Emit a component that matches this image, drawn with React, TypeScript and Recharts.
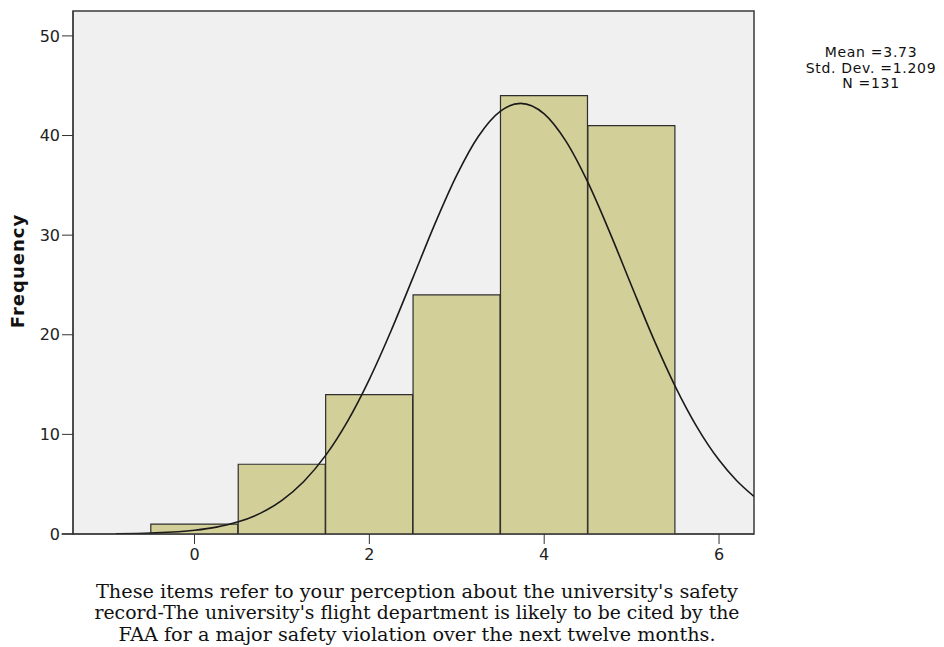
import {
  ComposedChart,
  Bar,
  Line,
  XAxis,
  YAxis,
  CartesianGrid,
  ReferenceArea,
  ReferenceLine,
} from 'recharts'

// histogram bins (bin centres) and their frequencies
const bins = [0, 1, 2, 3, 4, 5]
const counts = [1, 7, 14, 24, 44, 41]

// fitted normal curve
const curveX = [-0.9, -0.5, 0, 0.25, 0.5, 0.75, 1, 1.25, 1.5, 1.75, 2, 2.25, 2.5, 2.75, 3, 3.25, 3.5, 3.73, 4, 4.25, 4.5, 4.75, 5, 5.25, 5.5, 5.75, 6, 6.2, 6.4]
const curveY = [0.03, 0.1, 0.37, 0.69, 1.22, 2.07, 3.38, 5.27, 7.89, 11.31, 15.53, 20.43, 25.76, 31.13, 36.02, 39.95, 42.45, 43.23, 42.17, 39.41, 35.29, 30.28, 24.9, 19.61, 14.8, 10.71, 7.42, 5.37, 3.77]

const xTicks = [0, 2, 4, 6]
const yTicks = [0, 10, 20, 30, 40, 50]

const stats = ['Mean =3.73', 'Std. Dev. =1.209', 'N =131']
const titleLines = [
  "These items refer to your perception about the university's safety",
  "record-The university's flight department is likely to be cited by the",
  'FAA for a major safety violation over the next twelve months.',
]

const X_DOMAIN: [number, number] = [-1.39, 6.4]
const Y_DOMAIN: [number, number] = [0, 52.5]

const histRows = bins.map((bin, i) => ({ bin, count: counts[i] }))
const curveRows = curveX.map((x, i) => ({ x, y: curveY[i] }))

const tickStyle = { fill: '#222', fontSize: 16, fontFamily: 'DejaVu Sans' }

export default function App() {
  return (
    <div style={{ position: 'absolute', left: 0, top: 0, width: 944, height: 647, background: '#fff' }}>
      <ComposedChart
        width={944}
        height={647}
        data={histRows}
        margin={{ top: 11, right: 190, bottom: 83, left: 0 }}
        barCategoryGap={0}
        barGap={0}
      >
        <CartesianGrid xAxisId="bin" fill="#f0f0f0" horizontal={false} vertical={false} />
        <XAxis
          xAxisId="bin"
          dataKey="bin"
          type="number"
          domain={X_DOMAIN}
          ticks={xTicks}
          allowDataOverflow
          height={30}
          tickSize={10}
          tickMargin={5}
          tick={tickStyle}
          stroke="#333"
        />
        <XAxis xAxisId="curve" dataKey="x" type="number" domain={X_DOMAIN} allowDataOverflow hide />
        <YAxis
          type="number"
          domain={Y_DOMAIN}
          ticks={yTicks}
          allowDataOverflow
          width={73}
          tickSize={11}
          tickMargin={2}
          tick={tickStyle}
          stroke="#333"
        />
        <Bar
          xAxisId="bin"
          dataKey="count"
          fill="#d3cf98"
          stroke="#2e2e2e"
          strokeWidth={1.2}
          isAnimationActive={false}
        />
        <Line
          xAxisId="curve"
          data={curveRows}
          dataKey="y"
          type="monotone"
          stroke="#1a1a1a"
          strokeWidth={1.6}
          dot={false}
          isAnimationActive={false}
        />
        <ReferenceArea
          xAxisId="curve"
          x1={X_DOMAIN[0]}
          x2={X_DOMAIN[1]}
          y1={Y_DOMAIN[0]}
          y2={Y_DOMAIN[1]}
          fill="none"
          fillOpacity={0}
          stroke="#3a3a3a"
          strokeWidth={1.5}
          ifOverflow="visible"
        />
        <ReferenceLine
          xAxisId="curve"
          segment={[{ x: -1.52, y: 0 }, { x: X_DOMAIN[0], y: 0 }]}
          stroke="#333"
          strokeWidth={1.5}
          ifOverflow="visible"
        />
      </ComposedChart>

      <svg width={944} height={647} style={{ position: 'absolute', left: 0, top: 0, pointerEvents: 'none' }}>
        <text
          transform="translate(23.5,271) rotate(-90)"
          textAnchor="middle"
          fontFamily="DejaVu Sans"
          fontWeight="bold"
          fontSize={18}
          letterSpacing={1}
          fill="#111"
        >
          Frequency
        </text>
        {stats.map((s, i) => (
          <text
            key={s}
            x={871}
            y={57 + i * 15.5}
            textAnchor="middle"
            fontFamily="DejaVu Sans"
            fontSize={14}
            letterSpacing={0.7}
            fill="#111"
          >
            {s}
          </text>
        ))}
        {titleLines.map((t, i) => (
          <text
            key={i}
            x={417}
            y={597.5 + i * 21.5}
            textAnchor="middle"
            fontFamily="DejaVu Serif"
            fontSize={18}
            textLength={[642, 645, 597][i]}
            lengthAdjust="spacingAndGlyphs"
            fill="#111"
          >
            {t}
          </text>
        ))}
      </svg>
    </div>
  )
}
